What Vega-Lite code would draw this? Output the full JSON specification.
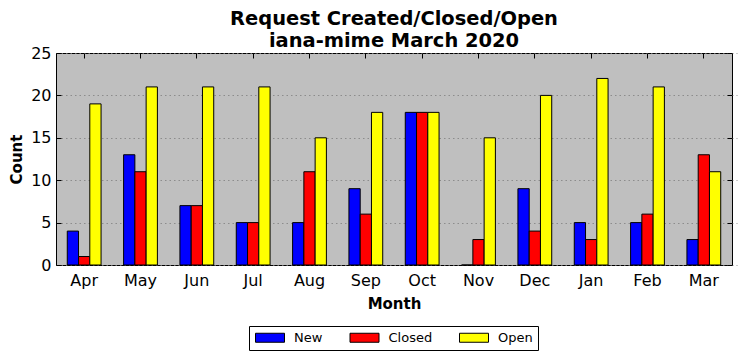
{
  "$schema": "https://vega.github.io/schema/vega-lite/v6.json",
  "width": 676,
  "height": 212,
  "autosize": {"type": "none"},
  "padding": {"left": 56, "top": 53, "right": 10, "bottom": 96},
  "background": "white",
  "config": {
    "font": "DejaVu Sans",
    "view": {"fill": "#bfbfbf", "stroke": "black", "strokeWidth": 1},
    "axis": {
      "labelFont": "DejaVu Sans",
      "labelFontSize": 16,
      "labelColor": "black",
      "titleFont": "DejaVu Sans",
      "titleFontSize": 15,
      "titleFontWeight": "bold",
      "titleColor": "black",
      "tickColor": "black",
      "tickSize": 5,
      "offset": -5,
      "domain": false,
      "gridColor": "#7f7f7f",
      "gridDash": [1.5, 3],
      "gridWidth": 0.8
    }
  },
  "title": {
    "text": ["Request Created/Closed/Open", "iana-mime March 2020"],
    "fontSize": 19.44,
    "fontWeight": "bold",
    "font": "DejaVu Sans",
    "lineHeight": 21.5,
    "offset": 0,
    "dy": 6,
    "anchor": "middle",
    "color": "black"
  },
  "data": {
    "values": [
      {"month": "Apr", "status": "New", "count": 4},
      {"month": "Apr", "status": "Closed", "count": 1},
      {"month": "Apr", "status": "Open", "count": 19},
      {"month": "May", "status": "New", "count": 13},
      {"month": "May", "status": "Closed", "count": 11},
      {"month": "May", "status": "Open", "count": 21},
      {"month": "Jun", "status": "New", "count": 7},
      {"month": "Jun", "status": "Closed", "count": 7},
      {"month": "Jun", "status": "Open", "count": 21},
      {"month": "Jul", "status": "New", "count": 5},
      {"month": "Jul", "status": "Closed", "count": 5},
      {"month": "Jul", "status": "Open", "count": 21},
      {"month": "Aug", "status": "New", "count": 5},
      {"month": "Aug", "status": "Closed", "count": 11},
      {"month": "Aug", "status": "Open", "count": 15},
      {"month": "Sep", "status": "New", "count": 9},
      {"month": "Sep", "status": "Closed", "count": 6},
      {"month": "Sep", "status": "Open", "count": 18},
      {"month": "Oct", "status": "New", "count": 18},
      {"month": "Oct", "status": "Closed", "count": 18},
      {"month": "Oct", "status": "Open", "count": 18},
      {"month": "Nov", "status": "New", "count": 0},
      {"month": "Nov", "status": "Closed", "count": 3},
      {"month": "Nov", "status": "Open", "count": 15},
      {"month": "Dec", "status": "New", "count": 9},
      {"month": "Dec", "status": "Closed", "count": 4},
      {"month": "Dec", "status": "Open", "count": 20},
      {"month": "Jan", "status": "New", "count": 5},
      {"month": "Jan", "status": "Closed", "count": 3},
      {"month": "Jan", "status": "Open", "count": 22},
      {"month": "Feb", "status": "New", "count": 5},
      {"month": "Feb", "status": "Closed", "count": 6},
      {"month": "Feb", "status": "Open", "count": 21},
      {"month": "Mar", "status": "New", "count": 3},
      {"month": "Mar", "status": "Closed", "count": 13},
      {"month": "Mar", "status": "Open", "count": 11}
    ]
  },
  "layer": [
    {
      "mark": {"type": "bar", "stroke": "black", "strokeWidth": 1},
      "encoding": {
        "x": {
          "field": "month",
          "type": "nominal",
          "sort": ["Apr", "May", "Jun", "Jul", "Aug", "Sep", "Oct", "Nov", "Dec", "Jan", "Feb", "Mar"],
          "scale": {"paddingInner": 0.4, "paddingOuter": 0.2},
          "axis": {"orient": "bottom", "title": "Month", "labelAngle": 0, "labelPadding": 7, "titlePadding": 8, "grid": false}
        },
        "xOffset": {"field": "status", "type": "nominal", "sort": ["New", "Closed", "Open"]},
        "y": {
          "field": "count",
          "type": "quantitative",
          "scale": {"domain": [0, 25], "nice": false},
          "axis": {"orient": "left", "title": "Count", "values": [0, 5, 10, 15, 20, 25], "labelPadding": 5, "titlePadding": 6, "grid": true}
        },
        "fill": {
          "field": "status",
          "type": "nominal",
          "sort": ["New", "Closed", "Open"],
          "scale": {"domain": ["New", "Closed", "Open"], "range": ["#0000ff", "#ff0000", "#ffff00"]},
          "legend": {
            "orient": "none",
            "legendX": 193,
            "legendY": 273,
            "direction": "horizontal",
            "title": null,
            "fillColor": "white",
            "strokeColor": "black",
            "padding": 5,
            "columnPadding": 24.5,
            "labelFont": "DejaVu Sans",
            "labelFontSize": 13,
            "labelColor": "black",
            "labelOffset": 27,
            "symbolType": "M-1,-0.9H4.8V0.9H-1Z",
            "symbolSize": 100,
            "symbolStrokeColor": "black",
            "symbolStrokeWidth": 1,
            "symbolOpacity": 1
          }
        }
      }
    },
    {
      "mark": {"type": "bar", "opacity": 0, "clip": true},
      "encoding": {
        "x": {
          "field": "month",
          "type": "nominal",
          "sort": ["Apr", "May", "Jun", "Jul", "Aug", "Sep", "Oct", "Nov", "Dec", "Jan", "Feb", "Mar"],
          "axis": {"orient": "top", "title": null, "labels": false, "grid": false}
        },
        "y": {
          "field": "count",
          "type": "quantitative",
          "stack": null,
          "axis": {"orient": "right", "title": null, "labels": false, "values": [0, 5, 10, 15, 20, 25], "grid": false}
        }
      }
    }
  ],
  "resolve": {"axis": {"x": "independent", "y": "independent"}}
}
